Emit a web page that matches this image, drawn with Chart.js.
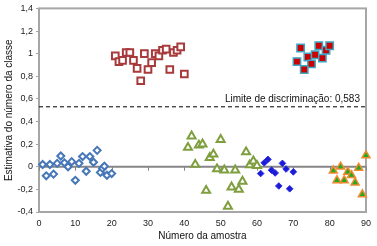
<!DOCTYPE html>
<html>
<head>
<meta charset="utf-8">
<script src="https://cdn.jsdelivr.net/npm/chart.js@4.4.1/dist/chart.umd.min.js"></script>
<style>
  html, body { margin: 0; padding: 0; background: #fff; }
  #wrap { width: 377px; height: 246px; position: relative; }
</style>
</head>
<body>
<div id="wrap"><canvas id="c"></canvas></div>
<script>
// Estimated class number per sample.

const xTicks = [0, 10, 20, 30, 40, 50, 60, 70, 80, 90];
const yTicks = [-0.4, -0.2, 0, 0.2, 0.4, 0.6, 0.8, 1, 1.2, 1.4];

const limitValue = 0.53;   // where the dashed line is drawn
const limitLabel = 'Limite de discriminação: 0,583';

// class 0, calibration (open blue diamonds)
const blueOpenX = [1, 2, 3, 4, 5, 6, 7, 8, 9, 10, 11, 12, 13, 14, 15, 16, 16.9, 17.5, 18, 18.7, 20];
const blueOpenY = [0.02, -0.08, 0.02, -0.065, 0.03, 0.095, 0.035, 0, 0.045, -0.12, 0.03, 0.09, -0.04, 0.09, 0.04, 0.145, -0.05, -0.015, 0.005, -0.075, -0.06];

// class 1, calibration (open red squares)
const redOpenX = [21, 22, 23, 24, 25, 26, 27, 28, 29, 30, 31, 32, 33, 34, 35, 36, 37, 38, 39, 40];
const redOpenY = [0.98, 0.93, 0.94, 1.01, 1.01, 0.94, 0.87, 0.76, 1.0, 0.86, 0.92, 1.0, 0.98, 1.03, 1.04, 0.86, 1.01, 1.03, 1.06, 0.82];

// class 0, calibration (open green triangles)
const greenOpenX = [41, 42, 43, 44, 45, 46, 47, 48, 49, 50, 51, 52, 53, 54, 55, 56, 57, 58, 59, 60];
const greenOpenY = [0.17, 0.27, 0.02, 0.19, 0.2, -0.21, 0.08, 0.11, -0.02, 0.24, -0.03, -0.35, -0.18, -0.03, -0.2, -0.13, 0.13, 0.015, 0.05, 0.01];

// validation (filled blue diamonds)
const blueFillX = [61, 62, 63, 64, 65, 66, 67, 68, 69, 70];
const blueFillY = [-0.06, 0.035, 0.065, -0.03, -0.055, -0.17, 0.03, -0.02, -0.195, -0.045];

// validation (filled red squares)
const redFillX = [71, 72, 73, 74, 75, 76, 77, 78, 79, 80];
const redFillY = [0.93, 1.05, 0.86, 0.97, 0.91, 0.99, 1.07, 0.96, 1.03, 1.07];

// validation (green triangles, orange edge)
const orangeX = [81, 82, 83, 84, 85, 86, 87, 88, 89, 90];
const orangeY = [-0.035, -0.12, 0, -0.12, -0.045, -0.075, -0.14, -0.01, -0.245, 0.1];

const pts = (xs, ys) => xs.map((x, i) => ({ x, y: ys[i] }));
const fmt = (v) => String(Math.round(v * 10) / 10).replace('.', ',');

const FONT = '"Liberation Sans", Arial, sans-serif';
const AXIS_GREY = '#a6a6a6';

// plot frame, zero line with tick marks, limit label
const frame = {
  id: 'frame',
  beforeDatasetsDraw(chart) {
    const { ctx, chartArea: a, scales: { x, y } } = chart;
    ctx.save();
    ctx.strokeStyle = AXIS_GREY;
    ctx.lineWidth = 2;
    ctx.strokeRect(a.left, a.top, a.right - a.left, a.bottom - a.top);

    const y0 = y.getPixelForValue(0);
    ctx.strokeStyle = '#868686';
    ctx.beginPath();
    ctx.moveTo(a.left, y0);
    ctx.lineTo(a.right, y0);
    ctx.stroke();
    ctx.lineWidth = 1;
    ctx.beginPath();
    for (const t of xTicks) {
      const px = Math.round(x.getPixelForValue(t)) + 0.5;
      ctx.moveTo(px, y0);
      ctx.lineTo(px, y0 + 4);
    }
    ctx.stroke();

    ctx.fillStyle = '#111';
    ctx.font = '10px ' + FONT;
    ctx.textAlign = 'right';
    ctx.textBaseline = 'bottom';
    ctx.fillText(limitLabel, a.right - 6, y.getPixelForValue(limitValue) - 3);
    ctx.restore();
  },
};

new Chart(document.getElementById('c'), {
  type: 'scatter',
  data: {
    datasets: [
      {
        type: 'line',
        data: [{ x: xTicks[0], y: limitValue }, { x: xTicks[xTicks.length - 1], y: limitValue }],
        borderColor: '#000',
        borderWidth: 1,
        borderDash: [4, 3],
        pointRadius: 0,
      },
      {
        data: pts(blueOpenX, blueOpenY),
        pointStyle: 'rectRot', pointRadius: 3.5,
        borderColor: '#4677b8', backgroundColor: '#fff', borderWidth: 2,
      },
      {
        data: pts(redOpenX, redOpenY),
        pointStyle: 'rect', pointRadius: 4.7,
        borderColor: '#a83a3c', backgroundColor: '#fff', borderWidth: 2,
      },
      {
        data: pts(greenOpenX, greenOpenY),
        pointStyle: 'triangle', pointRadius: 4.6,
        borderColor: '#7f9e3e', backgroundColor: '#fff', borderWidth: 2,
      },
      {
        data: pts(blueFillX, blueFillY),
        pointStyle: 'rectRot', pointRadius: 3.3,
        borderColor: '#2a2ae0', backgroundColor: '#1b1bd8', borderWidth: 1,
      },
      {
        data: pts(redFillX, redFillY),
        pointStyle: 'rect', pointRadius: 5.2,
        borderColor: '#3fa6c4', backgroundColor: '#cc0000', borderWidth: 1.5,
      },
      {
        data: pts(orangeX, orangeY),
        pointStyle: 'triangle', pointRadius: 4.6,
        borderColor: '#f08a30', backgroundColor: '#1faa1f', borderWidth: 1.5,
      },
    ],
  },
  options: {
    responsive: true,
    maintainAspectRatio: false,
    animation: false,
    clip: false,
    layout: { padding: { top: 7, right: 11, left: 0, bottom: 0 } },
    plugins: { legend: { display: false }, tooltip: { enabled: false } },
    scales: {
      x: {
        type: 'linear',
        min: 0, max: 90,
        afterBuildTicks: (s) => { s.ticks = xTicks.map((v) => ({ value: v })); },
        afterFit: (s) => { s.height = 34; },
        grid: { display: false, drawTicks: false },
        border: { display: false },
        ticks: { color: '#222', font: { size: 9, family: FONT }, padding: 6, maxRotation: 0, callback: (v) => String(v) },
        title: { display: true, text: 'Número da amostra', color: '#111', font: { size: 10, family: FONT }, padding: { top: 0, bottom: 4 } },
      },
      y: {
        type: 'linear',
        min: -0.4, max: 1.4,
        afterBuildTicks: (s) => { s.ticks = yTicks.map((v) => ({ value: v })); },
        afterFit: (s) => { s.width = 39; },
        grid: { drawOnChartArea: false, drawTicks: true, tickLength: 3, tickColor: AXIS_GREY, lineWidth: 1 },
        border: { display: false },
        ticks: { color: '#222', font: { size: 9, family: FONT }, padding: 3, callback: (v) => fmt(v) },
        title: { display: true, text: 'Estimativa do número da classe', color: '#111', font: { size: 10, family: FONT }, padding: { top: 3, bottom: 0 } },
      },
    },
  },
  plugins: [frame],
});
</script>
</body>
</html>
